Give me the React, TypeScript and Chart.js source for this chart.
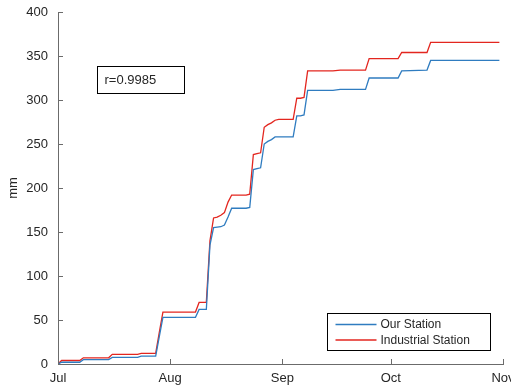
import React, { useEffect, useRef } from 'react';
import { Chart, registerables } from 'chart.js';

Chart.register(...registerables);

// Day offsets from 1 July
const days = [0, 1, 6, 7, 14, 15, 22, 23, 27, 28, 29, 38, 39, 41, 42, 43, 44, 45, 46, 47, 48, 52, 53, 54, 55, 56, 57, 58, 59, 60, 61, 65, 66, 67, 68, 69, 76, 78, 85, 86, 94, 95, 102, 103, 122];
const ourStation = [0, 2, 2, 5, 5, 7.5, 7.5, 9, 9, 31, 53, 53, 62, 62, 135, 155, 155.5, 156, 158, 167, 177, 177, 178, 221, 222, 223, 250, 253, 255, 258, 258, 258, 282, 282, 283, 311, 311, 312, 312, 325, 325, 333, 334, 345, 345];
const industrialStation = [0, 4, 4, 7, 7, 11, 11, 12, 12, 36, 59, 59, 70, 70, 140, 166, 167, 169, 172, 184, 192, 192, 193, 238, 239, 240, 269, 272, 274, 277, 278, 278, 302, 302, 303, 333, 333, 334, 334, 347, 347, 354, 354, 365.5, 365.5];

const monthTicks = [0, 31, 62, 92, 123];
const monthLabels = ['Jul', 'Aug', 'Sep', 'Oct', 'Nov'];
const yTicks = [0, 50, 100, 150, 200, 250, 300, 350, 400];
const seriesNames = ['Our Station', 'Industrial Station'];
const seriesColors = ['#2f7cc0', '#e3261f'];
const correlationLabel = 'r=0.9985';
const yTitle = 'mm';

const FONT = '"Liberation Sans", Arial, Helvetica, sans-serif';
const AXIS = '#6b6b6b';
const TEXT = '#262626';

const overlay = {
  id: 'overlay',
  afterDraw(chart: any) {
    const { ctx, chartArea: a, scales } = chart;
    const x = scales.x;
    const y = scales.y;
    ctx.save();
    // inward tick marks
    ctx.strokeStyle = AXIS;
    ctx.lineWidth = 1;
    ctx.beginPath();
    for (const v of yTicks) {
      const py = Math.round(y.getPixelForValue(v)) + 0.5;
      ctx.moveTo(a.left, py);
      ctx.lineTo(a.left + 5, py);
    }
    for (const v of monthTicks) {
      const px = Math.round(x.getPixelForValue(v)) + 0.5;
      ctx.moveTo(px, a.bottom);
      ctx.lineTo(px, a.bottom - 5);
    }
    ctx.stroke();

    // correlation text box
    const rx = Math.round(a.left + 39) + 0.5;
    const ry = Math.round(a.top + 54) + 0.5;
    ctx.fillStyle = '#fff';
    ctx.fillRect(rx, ry, 87, 27);
    ctx.strokeStyle = '#000';
    ctx.strokeRect(rx, ry, 87, 27);
    ctx.fillStyle = TEXT;
    ctx.font = `13px ${FONT}`;
    ctx.textBaseline = 'middle';
    ctx.textAlign = 'left';
    ctx.fillText(correlationLabel, rx + 7, ry + 14);

    // legend box
    const lx = Math.round(a.right - 176) + 0.5;
    const ly = Math.round(a.bottom - 51) + 0.5;
    ctx.fillStyle = '#fff';
    ctx.fillRect(lx, ly, 163, 37);
    ctx.strokeStyle = '#000';
    ctx.strokeRect(lx, ly, 163, 37);
    ctx.font = `12px ${FONT}`;
    chart.data.datasets.forEach((ds: any, i: number) => {
      const cy = ly + 11 + i * 15.5;
      ctx.strokeStyle = ds.borderColor;
      ctx.lineWidth = 1.3;
      ctx.beginPath();
      ctx.moveTo(lx + 8, cy);
      ctx.lineTo(lx + 49, cy);
      ctx.stroke();
      ctx.fillStyle = TEXT;
      ctx.fillText(ds.label, lx + 53, cy + 0.5);
    });
    ctx.restore();
  },
};

export default function App() {
  const ref = useRef<HTMLCanvasElement>(null);
  useEffect(() => {
    if (!ref.current) return;
    const chart = new Chart(ref.current, {
      type: 'line',
      data: {
        datasets: [ourStation, industrialStation].map((vals, i) => ({
          label: seriesNames[i],
          data: days.map((d, j) => ({ x: d, y: vals[j] })),
          borderColor: seriesColors[i],
          backgroundColor: seriesColors[i],
          borderWidth: 1.3,
          pointRadius: 0,
          tension: 0,
          fill: false,
        })),
      },
      options: {
        responsive: false,
        animation: false,
        events: [],
        layout: { padding: { top: 12, right: 8, left: 0, bottom: 0 } },
        plugins: { legend: { display: false }, tooltip: { enabled: false } },
        scales: {
          x: {
            type: 'linear',
            min: 0,
            max: 123,
            grid: { display: false, drawTicks: false },
            border: { display: true, color: AXIS, width: 1 },
            afterBuildTicks: (s: any) => { s.ticks = monthTicks.map((v) => ({ value: v })); },
            afterFit: (s: any) => { s.height = 25; s.paddingLeft = 0; s.paddingRight = 0; },
            ticks: {
              autoSkip: false,
              maxRotation: 0,
              padding: 7,
              color: TEXT,
              font: { family: FONT, size: 13 },
              callback: (v: any) => monthLabels[monthTicks.indexOf(v)] ?? '',
            },
          },
          y: {
            type: 'linear',
            min: 0,
            max: 400,
            grid: { display: false, drawTicks: false },
            border: { display: true, color: AXIS, width: 1 },
            afterBuildTicks: (s: any) => { s.ticks = yTicks.map((v) => ({ value: v })); },
            afterFit: (s: any) => { s.width = 58; s.paddingTop = 0; s.paddingBottom = 0; },
            title: { display: true, text: yTitle, color: TEXT, font: { family: FONT, size: 13 }, padding: { top: 6, bottom: 0 } },
            ticks: { padding: 10, color: TEXT, font: { family: FONT, size: 13 } },
          },
        },
      },
      plugins: [overlay],
    } as any);
    return () => chart.destroy();
  }, []);
  return (
    <div style={{ position: 'absolute', left: 0, top: 0, width: 511, height: 389, background: '#fff' }}>
      <canvas ref={ref} width={511} height={389} />
    </div>
  );
}
